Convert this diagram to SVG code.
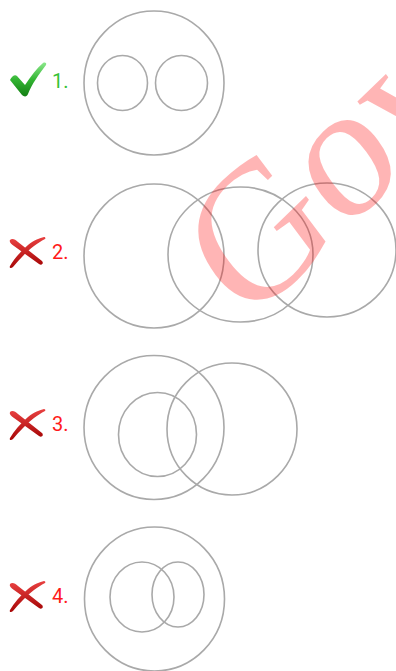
<svg xmlns="http://www.w3.org/2000/svg" width="396" height="671" viewBox="0 0 396 671">
<defs>
<style>
.c{fill:none;stroke:#a9a9a9;stroke-width:1.6}
.lg{font-family:Roboto,"Liberation Sans",sans-serif;font-size:20px;fill:#36c236}
.lr{font-family:Roboto,"Liberation Sans",sans-serif;font-size:20px;fill:#ff1a1a}
.wm{font-family:"Liberation Serif","Times New Roman",serif;font-size:172px;fill:#ff0000;fill-opacity:0.29}
</style>
<linearGradient id="gg" x1="0" y1="0" x2="0" y2="1">
<stop offset="0" stop-color="#8be88b"/>
<stop offset="0.5" stop-color="#33b533"/>
<stop offset="1" stop-color="#137f13"/>
</linearGradient>
<linearGradient id="rg" x1="0" y1="0" x2="0" y2="1">
<stop offset="0" stop-color="#e84040"/>
<stop offset="1" stop-color="#a80808"/>
</linearGradient>
<g id="xmark">
<path d="M2,3 C4,1 7,2 10,5 L34,24 C36,26 34,29 31,27 L6,9 C3,7 1,5 2,3 Z" fill="url(#rg)"/>
<path d="M36,0 C32,1 26,3 20,8 C12,15 6,22 2,29 C1,31 3,32 5,30 C11,23 18,15 26,9 C30,6 33,4 37,2 C38,1 37,0 36,0 Z" fill="url(#rg)"/>
</g>
</defs>
<rect width="396" height="671" fill="#ffffff"/>

<g id="item1">
<path d="M10,80 C12,76 15,74 17,76 L25,85 C31,76 37,68 43,63 C45,62 47,63 46,65 C39,74 32,84 28,94 C27,97 24,97 22,95 Z" fill="url(#gg)"/>
<text class="lg" x="52" y="88">1.</text>
<ellipse class="c" cx="154" cy="83" rx="70" ry="72"/>
<ellipse class="c" cx="122.5" cy="83" rx="25" ry="27.5"/>
<ellipse class="c" cx="181.5" cy="83" rx="26" ry="27.5"/>
</g>

<g id="item2">
<use href="#xmark" x="8" y="237"/>
<text class="lr" x="52" y="259">2.</text>
<ellipse class="c" cx="154" cy="256" rx="70" ry="72"/>
<ellipse class="c" cx="240.5" cy="254.5" rx="72.5" ry="67.5"/>
<ellipse class="c" cx="327" cy="250" rx="69" ry="67"/>
</g>

<g id="item3">
<use href="#xmark" x="8" y="409"/>
<text class="lr" x="52" y="431">3.</text>
<ellipse class="c" cx="154" cy="427.5" rx="70" ry="72"/>
<ellipse class="c" cx="157.5" cy="434.5" rx="39" ry="42"/>
<ellipse class="c" cx="232" cy="429" rx="65" ry="66"/>
</g>

<g id="item4">
<use href="#xmark" x="8" y="581"/>
<text class="lr" x="52" y="603">4.</text>
<ellipse class="c" cx="154.5" cy="599" rx="70" ry="72"/>
<ellipse class="c" cx="142" cy="597" rx="32" ry="35"/>
<ellipse class="c" cx="178" cy="594.5" rx="26" ry="32.5"/>
</g>

<g id="connectors"/>

<text class="wm" x="0" y="0" transform="matrix(0.775,-0.752,0.648,0.864,245.7,327.7)">Gov</text>
</svg>
